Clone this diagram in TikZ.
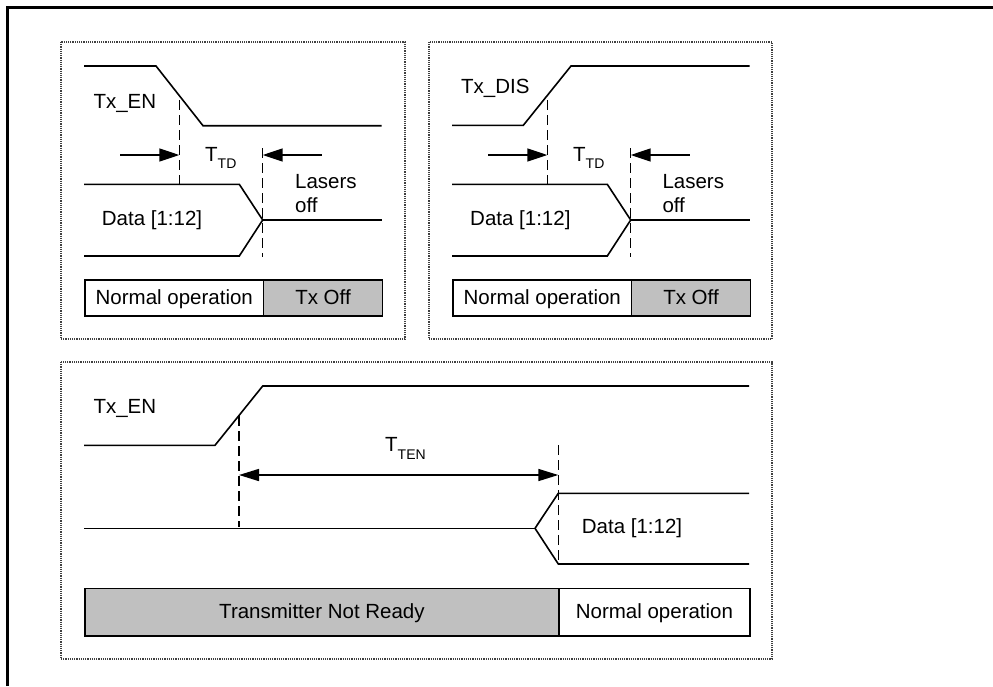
\documentclass[tikz,border=0pt]{standalone}
\usepackage{fontspec}
\setmainfont{Liberation Sans}
\usetikzlibrary{arrows.meta}
\definecolor{cellgray}{HTML}{C0C0C0}
\begin{document}
\begin{tikzpicture}[x=1pt,y=-1pt,
  sig/.style={line width=1.6pt, line join=miter},
  guide/.style={line width=1.4pt, dash pattern=on 10pt off 5pt},
  panelbox/.style={draw=black!75, line width=1.2pt, densely dotted},
  lbl/.style={anchor=base west, inner sep=0pt, font=\fontsize{20.5}{24}\selectfont},
  cell/.style={draw, line width=1.6pt, inner sep=0pt, anchor=north west,
    text height=13pt, text depth=0pt, font=\fontsize{20.5}{24}\selectfont},
  arr/.style={line width=1.6pt, -{Triangle[length=20pt,width=13pt]}},
  darr/.style={line width=1.6pt, {Triangle[length=20pt,width=12pt]}-{Triangle[length=20pt,width=12pt]}},
]
\useasboundingbox (0,0) rectangle (993,686);
% outer frame
\draw[line width=2.5pt] (7.7,686) -- (7.7,7.3) -- (993,7.3);

% ---------- panel 1 ----------
\draw[panelbox] (61,42) rectangle (405,339);
\draw[sig] (84,66) -- (156,66) -- (203,125.7) -- (381.7,125.7);
\coordinate (p1d1t) at (179.3,100);
\coordinate (p1d1b) at (179.3,184.3);
\coordinate (p1d2t) at (262.7,148);
\coordinate (p1d2b) at (262.7,256.7);
\draw[guide] (p1d1t) -- (p1d1b);
\draw[guide] (p1d2t) -- (p1d2b);
\coordinate (p1a1s) at (120,155);
\coordinate (p1a1e) at (179.3,155);
\coordinate (p1a2s) at (321.7,155);
\coordinate (p1a2e) at (262.7,155);
\draw[arr] (p1a1s) -- (p1a1e);
\draw[arr] (p1a2s) -- (p1a2e);
\draw[sig] (84,184.3) -- (239.3,184.3) -- (262.7,220) -- (239.3,256) -- (84,256);
\draw[sig] (262.7,220) -- (381.7,220);
\node[lbl] (p1txen) at (93.3,108.3) {Tx\_EN};
\node[lbl] (p1ttd) at (205,161) {T\raisebox{-7.3pt}{\fontsize{14}{14}\selectfont TD}};
\node[lbl] (p1data) at (101.7,225) {Data [1:12]};
\node[lbl] (p1las) at (295,188.3) {Lasers};
\node[lbl] (p1off) at (295,212.3) {off};
\node[cell, fill=white, minimum width=178.4pt, minimum height=35.7pt] (p1norm) at (84.3,279.3) {Normal operation};
\node[cell, fill=cellgray, minimum width=119pt, minimum height=35.7pt] (p1off2) at (262.7,279.3) {Tx Off};

% ---------- panel 2 ----------
\draw[panelbox] (429,42) rectangle (772,339);
\draw[sig] (452,125.3) -- (523.3,125.3) -- (571,66) -- (749.7,66);
\coordinate (p2d1t) at (547.3,100);
\coordinate (p2d1b) at (547.3,184.3);
\coordinate (p2d2t) at (630.7,148);
\coordinate (p2d2b) at (630.7,256.7);
\draw[guide] (p2d1t) -- (p2d1b);
\draw[guide] (p2d2t) -- (p2d2b);
\coordinate (p2a1s) at (488,155);
\coordinate (p2a1e) at (547.3,155);
\coordinate (p2a2s) at (689.7,155);
\coordinate (p2a2e) at (630.7,155);
\draw[arr] (p2a1s) -- (p2a1e);
\draw[arr] (p2a2s) -- (p2a2e);
\draw[sig] (452,184.3) -- (607.3,184.3) -- (630.7,220) -- (607.3,256) -- (452,256);
\draw[sig] (630.7,220) -- (749.7,220);
\node[lbl] (p2txdis) at (461,93.3) {Tx\_DIS};
\node[lbl] (p2ttd) at (573,161) {T\raisebox{-7.3pt}{\fontsize{14}{14}\selectfont TD}};
\node[lbl] (p2data) at (470,225.5) {Data [1:12]};
\node[lbl] (p2las) at (662.3,188.3) {Lasers};
\node[lbl] (p2off) at (662.3,212.3) {off};
\node[cell, fill=white, minimum width=178.4pt, minimum height=35.7pt] (p2norm) at (452.3,279.3) {Normal operation};
\node[cell, fill=cellgray, minimum width=119pt, minimum height=35.7pt] (p2off2) at (630.7,279.3) {Tx Off};

% ---------- panel 3 ----------
\draw[panelbox] (61,362) rectangle (772,659);
\draw[sig] (84,445.3) -- (215,445.3) -- (262.7,386) -- (749,386);
\coordinate (p3d1t) at (239,416);
\coordinate (p3d1b) at (239,526.7);
\coordinate (p3d2t) at (558.3,445);
\coordinate (p3d2b) at (558.3,563.3);
\draw[guide] (p3d1t) -- (p3d1b);
\draw[guide] (p3d2t) -- (p3d2b);
\coordinate (p3as) at (239,475);
\coordinate (p3ae) at (558.3,475);
\draw[darr] (p3as) -- (p3ae);
\draw[sig] (84,528.3) -- (535,528.3);
\draw[sig] (749,493.3) -- (558.3,493.3) -- (535,528.3) -- (558.3,564) -- (749,564);
\node[lbl] (p3txen) at (93.3,413.3) {Tx\_EN};
\node[lbl] (p3tten) at (385,451.7) {T\raisebox{-7.3pt}{\fontsize{14}{14}\selectfont TEN}};
\node[lbl] (p3data) at (581.7,533.3) {Data [1:12]};
\node[cell, fill=cellgray, minimum width=474.3pt, minimum height=47.3pt] (p3tnr) at (84,587.7) {Transmitter Not Ready};
\node[cell, fill=white, minimum width=190.7pt, minimum height=47.3pt] (p3norm) at (558.3,587.7) {Normal operation};
\end{tikzpicture}
\end{document}
